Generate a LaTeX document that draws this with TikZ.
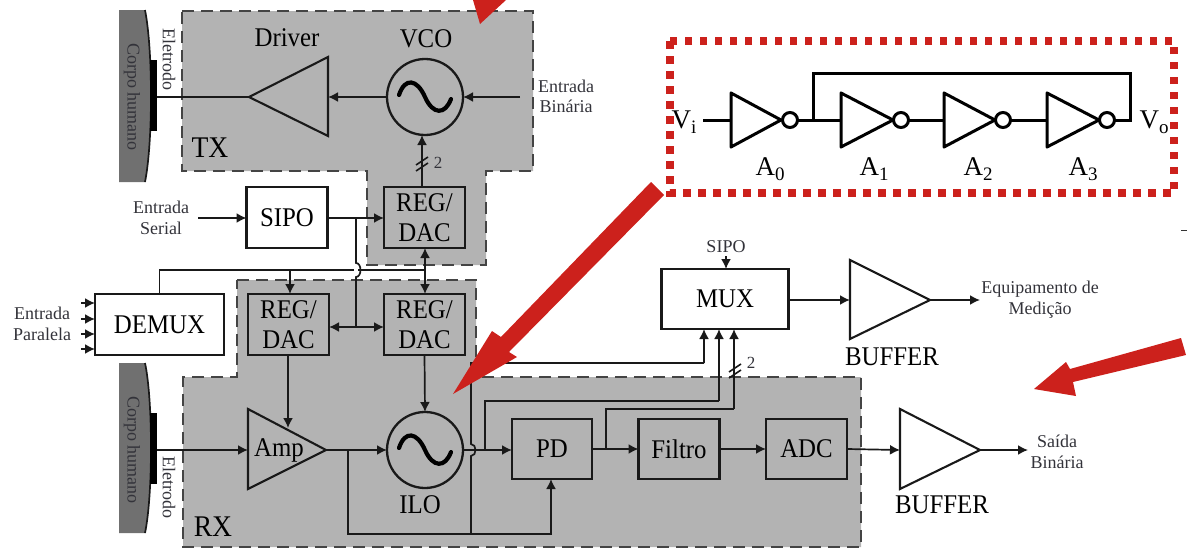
\documentclass[tikz,border=0pt]{standalone}
\usepackage{fontspec}
\setmainfont[FakeStretch=0.92]{Liberation Serif}
\newfontfamily\plainserif{Liberation Serif}
\usetikzlibrary{arrows.meta}
\definecolor{regiongray}{HTML}{B3B3B3}
\definecolor{bodygray}{HTML}{707070}
\definecolor{dashgray}{HTML}{444444}
\definecolor{redmark}{HTML}{CC211C}
\definecolor{smalltext}{HTML}{33333A}
\tikzset{
  region/.style={fill=regiongray,draw=dashgray,line width=1.8pt,dash pattern=on 12pt off 7pt},
  blk/.style={draw=black!90,line width=2.3pt,minimum width=81pt,minimum height=61pt,inner sep=0pt,outer sep=0pt,align=center,font=\fontsize{27}{30}\selectfont},
  osc/.style={circle,draw=black!90,line width=2.3pt,minimum size=76pt,inner sep=0pt,outer sep=0pt},
  amptri/.style={draw=black!90,line width=2.1pt,line join=miter},
  wire/.style={draw=black!90,line width=1.7pt},
  arr/.style={wire,-{Latex[length=10pt,width=10pt]}},
  arrs/.style={wire,{Latex[length=10pt,width=10pt]}-{Latex[length=10pt,width=10pt]}},
  big/.style={inner sep=0pt,font=\fontsize{27}{30}\selectfont,align=center},
  small/.style={inner sep=0pt,text=smalltext,font=\plainserif\fontsize{18}{20.5}\selectfont,align=center},
  body/.style={fill=bodygray,draw=none},
  electrode/.style={fill=black,draw=none,minimum width=7pt,minimum height=71pt,inner sep=0pt,outer sep=0pt},
  redarrow/.style={fill=redmark,draw=none},
  dots/.style={draw=redmark,line width=7.5pt,dash pattern=on 7.5pt off 7.5pt},
  invw/.style={draw=black,line width=3pt},
  bubble/.style={circle,draw=black,line width=3pt,minimum size=15pt,inner sep=0pt,outer sep=0pt},
  circ/.style={inner sep=0pt,font=\plainserif\fontsize{27}{30}\selectfont},
  sinew/.style={draw=black,line width=4.2pt,line cap=round},
  slash/.style={draw=black!90,line width=1.6pt}
}
\newcommand{\sinewave}[1]{\draw[sinew,shift={(#1.center)}] (-26,-2) .. controls (-20,-20) and (-8,-18) .. (0,0) .. controls (8,18) and (20,18) .. (26,2);}
\newcommand{\subt}[1]{\raisebox{-5pt}{\fontsize{19}{19}\selectfont #1}}
\begin{document}
\begin{tikzpicture}[x=1pt,y=-1pt]
\useasboundingbox (0,0) rectangle (1187,554);
% gray regions
\draw[region] (182,11) -- (533,11) -- (533,171) -- (486,171) -- (486,265) -- (367,265) -- (367,171) -- (182,171) -- cycle;
\draw[region] (237,280) -- (476,280) -- (476,377) -- (861,377) -- (861,547) -- (183,547) -- (183,377) -- (237,377) -- cycle;
% human body shapes
\fill[body] (119,10) -- (145,10) .. controls (153,50) and (153,142) .. (145,182) -- (119,182) -- cycle;
\draw[wire] (145,10) .. controls (153,50) and (153,142) .. (145,182);
\fill[body] (119,363) -- (145,363) .. controls (153,400) and (153,495) .. (145,533) -- (119,533) -- cycle;
\draw[wire] (145,363) .. controls (153,400) and (153,495) .. (145,533);
\node[electrode] (elTX) at (153.5,95.5) {};
\node[electrode] (elRX) at (153.5,448) {};
\node[small,rotate=-90] (corpoTX) at (132,97) {Corpo humano};
\node[small,rotate=-90] (corpoRX) at (132,450) {Corpo humano};
\node[small,rotate=-90] (eletTX) at (169,59) {Eletrodo};
\node[small,rotate=-90] (eletRX) at (169,487) {Eletrodo};
% blocks
\node[blk] (regT) at (424.5,217.5) {REG/\\DAC};
\node[blk] (sipo) at (287,217.5) {SIPO};
\node[blk,minimum width=129pt] (demux) at (159.5,324.5) {DEMUX};
\node[blk] (regL) at (288.5,324.5) {REG/\\DAC};
\node[blk] (regR) at (424.5,324.5) {REG/\\DAC};
\node[blk,minimum width=80pt,minimum height=60pt] (pd) at (552,449) {PD};
\node[blk,minimum height=60pt] (filtro) at (679,449) {Filtro};
\node[blk,minimum height=60pt] (adc) at (806.5,449) {ADC};
\node[blk,minimum width=127pt,minimum height=60pt] (mux) at (725,299) {MUX};
\node[osc] (vco) at (425,97) {};
\node[osc] (ilo) at (425,450) {};
\sinewave{vco}
\sinewave{ilo}
% triangles
\coordinate (drvTip) at (249,97); \coordinate (drvBase) at (328,97);
\coordinate (ampBase) at (248,450); \coordinate (ampTip) at (326,450);
\coordinate (bufATip) at (930,300); \coordinate (bufABase) at (850,300);
\coordinate (bufBTip) at (980,450); \coordinate (bufBBase) at (900,450);
\draw[amptri] (drvTip) -- (328,57) -- (328,136) -- cycle;
\draw[amptri] (248,409) -- (ampTip) -- (248,489) -- cycle;
\draw[amptri] (850,260) -- (bufATip) -- (850,339) -- cycle;
\draw[amptri] (900,409) -- (bufBTip) -- (900,489) -- cycle;
% TX connectors
\coordinate (binIn) at (520,97);
\coordinate (serIn) at (198,218);
\draw[wire] (elTX.east |- drvTip) -- (drvTip);
\draw[arr] (vco.west) -- (drvBase);
\draw[arr] (binIn) -- (vco.east);
\draw[arr] (regT.north -| 422,0) -- (422,135);
\draw[slash] (416,165) -- (428,157); \draw[slash] (416,171) -- (428,163);
\draw[arr] (serIn) -- (sipo.west |- serIn);
\draw[arr] (sipo.east |- serIn) -- (regT.west |- serIn);
% buses
\coordinate (busL) at (159.5,270);
\coordinate (busR) at (425,270);
\coordinate (busM) at (290,270);
\coordinate (brT) at (356,218);
\coordinate (brJ) at (356,327);
\draw[wire] (demux.north -| busL) -- (busL) -- (busR);
\draw[arr] (busR) -- (busR |- regT.south);
\draw[arr] (busR) -- (busR |- regR.north);
\draw[arr] (busM) -- (busM |- regL.north);
\fill[white] (354,263) rectangle (358,277);
\draw[wire] (brT) -- (356,263) .. controls (362,263) and (362,277) .. (356,277) -- (brJ);
\draw[arrs] (regL.east |- brJ) -- (regR.west |- brJ);
% DEMUX inputs
\foreach \yy/\nm in {303/a,319/b,334/c,349/d}{
  \coordinate (dem\nm) at (81,\yy);
  \draw[arr] (dem\nm) -- (demux.west |- dem\nm);
}
% RX connectors
\coordinate (fbA) at (348,450);
\coordinate (fbB) at (348,534);
\coordinate (fbC) at (551,534);
\coordinate (fbD) at (471,534);
\coordinate (fbE) at (471,363);
\coordinate (muxA) at (704,363);
\coordinate (brP) at (485,450);
\coordinate (brPt) at (485,401);
\coordinate (muxB) at (719,401);
\coordinate (brF) at (606,449);
\coordinate (brFt) at (606,409);
\coordinate (muxC) at (734,409);
\draw[arr] (elRX.east |- ampBase) -- (ampBase);
\draw[arr] (288,355) -- (288,428);
\draw[arr] (regR.south) -- (ilo.north);
\draw[arr] (ampTip) -- (ilo.west);
\draw[arr] (fbA) -- (fbB) -- (fbC) -- (pd.south -| fbC);
\draw[wire] (fbD) -- (471,456) .. controls (477,456) and (477,444) .. (471,444) -- (fbE) -- (muxA);
\draw[arr] (muxA) -- (muxA |- mux.south);
\draw[arr] (ilo.east) -- (pd.west |- ilo.east);
\draw[wire] (brP) -- (brPt) -- (muxB);
\draw[arr] (muxB) -- (muxB |- mux.south);
\draw[wire] (brF) -- (brFt) -- (muxC);
\draw[arr] (muxC) -- (muxC |- mux.south);
\draw[slash] (729,372) -- (741,364); \draw[slash] (729,378) -- (741,370);
\draw[arr] (pd.east) -- (filtro.west);
\draw[arr] (filtro.east) -- (adc.west);
\draw[arr] (adc.east) -- (bufBBase);
\coordinate (saidaOut) at (1028,450);
\draw[arr] (bufBTip) -- (saidaOut);
\coordinate (muxIn) at (726,256);
\draw[arr] (muxIn) -- (muxIn |- mux.north);
\draw[arr] (mux.east |- bufABase) -- (bufABase);
\coordinate (equipOut) at (980,300);
\draw[arr] (bufATip) -- (equipOut);
% labels
\node[big] (drvL) at (287,38) {Driver};
\node[big] (vcoL) at (426,39) {VCO};
\node[big,font=\fontsize{30}{30}\selectfont] (txL) at (210,148) {TX};
\node[big,font=\fontsize{30}{30}\selectfont] (rxL) at (213,527) {RX};
\node[big] (ampL) at (279,450) {Amp};
\node[big] (iloL) at (420,505) {ILO};
\node[big] (bufAL) at (892,357) {BUFFER};
\node[big] (bufBL) at (942,505) {BUFFER};
\node[small] (binL) at (566,96.5) {Entrada\\Binária};
\node[small] (serL) at (161,218) {Entrada\\Serial};
\node[small] (parL) at (42,324) {Entrada\\Paralela};
\node[small] (sipoL) at (726,247) {SIPO};
\node[small] (equipL) at (1040,299.5) {Equipamento de\\Medição};
\node[small] (saidaL) at (1057,452) {Saída\\Binária};
\node[small,font=\plainserif\fontsize{17}{20}\selectfont] (twoA) at (438,163) {2};
\node[small,font=\plainserif\fontsize{17}{20}\selectfont] (twoB) at (751,363) {2};
% inverter chain box
\draw[dots] (670,41) rectangle (1174,193);
\coordinate (viIn) at (703,120);
\coordinate (loopA) at (813,120);
\coordinate (loopB) at (813,73);
\coordinate (loopC) at (1130,73);
\coordinate (loopD) at (1130,120);
\coordinate (i0) at (731,120); \coordinate (i1) at (841,120);
\coordinate (i2) at (944,120); \coordinate (i3) at (1047,120);
\draw[invw,line join=round] (i0 |- 0,93) -- (781,120) -- (i0 |- 0,147) -- cycle;
\draw[invw,line join=round] (i1 |- 0,93) -- (893,120) -- (i1 |- 0,147) -- cycle;
\draw[invw,line join=round] (i2 |- 0,93) -- (995,120) -- (i2 |- 0,147) -- cycle;
\draw[invw,line join=round] (i3 |- 0,93) -- (1099,120) -- (i3 |- 0,147) -- cycle;
\node[bubble] (b0) at (790,120) {};
\node[bubble] (b1) at (901,120) {};
\node[bubble] (b2) at (1003,120) {};
\node[bubble] (b3) at (1107,120) {};
\draw[invw] (viIn) -- (i0);
\draw[invw] (b0.east) -- (i1);
\draw[invw] (b1.east) -- (i2);
\draw[invw] (b2.east) -- (i3);
\draw[invw,line join=miter] (loopA) -- (loopB) -- (loopC) -- (loopD) -- (b3.east);
\node[circ] (viL) at (684,122) {V\subt{i}};
\node[circ] (voL) at (1154,122) {V\subt{o}};
\node[circ] (a0L) at (770,169) {A\subt{0}};
\node[circ] (a1L) at (874,169) {A\subt{1}};
\node[circ] (a2L) at (978,169) {A\subt{2}};
\node[circ] (a3L) at (1083,169) {A\subt{3}};
% red arrows
\fill[redarrow] (473,0) -- (506,0) -- (480,24) -- cycle;
\fill[redarrow] (453,394) -- (492,331) -- (501,337) -- (651,182) -- (664,195) -- (509,352) -- (517,357) -- cycle;
\fill[redarrow] (1034,389) -- (1066,362) -- (1070,369) -- (1181,338) -- (1186,355) -- (1073,382) -- (1076,396) -- cycle;
% small stray tick
\draw[black!80,line width=1pt] (1181,230) -- (1187,230);
\end{tikzpicture}
\end{document}
